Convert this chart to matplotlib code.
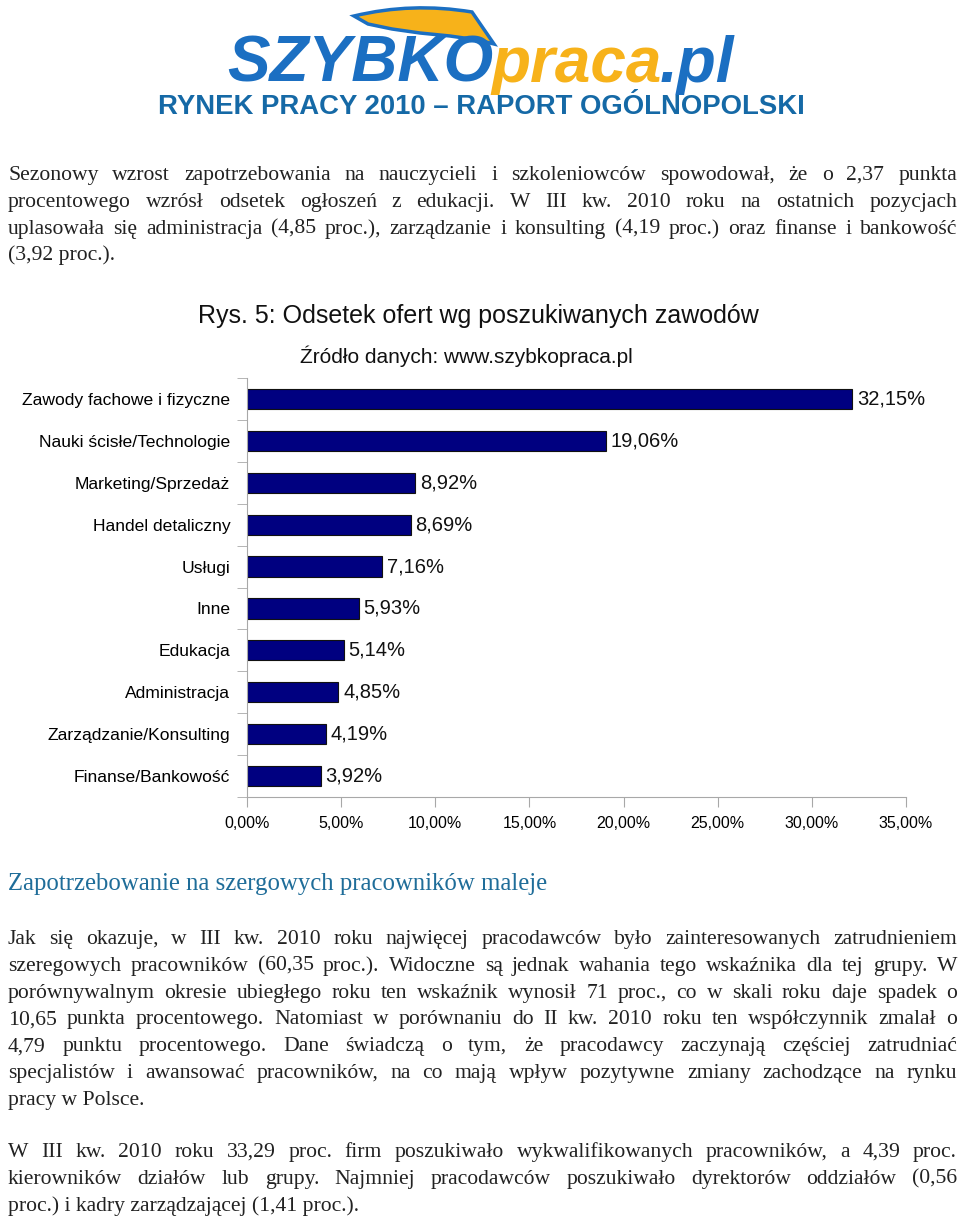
import matplotlib
matplotlib.use('Agg')
import matplotlib.pyplot as plt
from matplotlib.path import Path
from matplotlib.patches import PathPatch

categories = ['Zawody fachowe i fizyczne', 'Nauki ścisłe/Technologie', 'Marketing/Sprzedaż',
              'Handel detaliczny', 'Usługi', 'Inne', 'Edukacja', 'Administracja',
              'Zarządzanie/Konsulting', 'Finanse/Bankowość']
values = [32.15, 19.06, 8.92, 8.69, 7.16, 5.93, 5.14, 4.85, 4.19, 3.92]
x_ticks = [0, 5, 10, 15, 20, 25, 30, 35]

title = 'RYNEK PRACY 2010 – RAPORT OGÓLNOPOLSKI'
chart_title = 'Rys. 5: Odsetek ofert wg poszukiwanych zawodów'
chart_source = 'Źródło danych: www.szybkopraca.pl'
heading = 'Zapotrzebowanie na szergowych pracowników maleje'

para1 = ['Sezonowy wzrost zapotrzebowania na nauczycieli i szkoleniowców spowodował, że o 2,37 punkta',
         'procentowego wzrósł odsetek ogłoszeń z edukacji. W III kw. 2010 roku na ostatnich pozycjach',
         'uplasowała się administracja (4,85 proc.), zarządzanie i konsulting (4,19 proc.) oraz finanse i bankowość',
         '(3,92 proc.).']
para2 = ['Jak się okazuje, w III kw. 2010 roku najwięcej pracodawców było zainteresowanych zatrudnieniem',
         'szeregowych pracowników (60,35 proc.). Widoczne są jednak wahania tego wskaźnika dla tej grupy. W',
         'porównywalnym okresie ubiegłego roku ten wskaźnik wynosił 71 proc., co w skali roku daje spadek o',
         '10,65 punkta procentowego. Natomiast w porównaniu do II kw. 2010 roku ten współczynnik zmalał o',
         '4,79 punktu procentowego. Dane świadczą o tym, że pracodawcy zaczynają częściej zatrudniać',
         'specjalistów i awansować pracowników, na co mają wpływ pozytywne zmiany zachodzące na rynku',
         'pracy w Polsce.']
para3 = ['W III kw. 2010 roku 33,29 proc. firm poszukiwało wykwalifikowanych pracowników, a 4,39 proc.',
         'kierowników działów lub grupy. Najmniej pracodawców poszukiwało dyrektorów oddziałów (0,56',
         'proc.) i kadry zarządzającej (1,41 proc.).']

W, H = 960, 1218
fig = plt.figure(figsize=(W / 100, H / 100), dpi=100)
fig.patch.set_facecolor('white')

# page layer in pixel coordinates
page = fig.add_axes([0, 0, 1, 1])
page.set_xlim(0, W)
page.set_ylim(H, 0)
page.axis('off')

renderer = fig.canvas.get_renderer()
LEFT, RIGHT = 8, 957
body = dict(family='Liberation Serif', fontsize=15.6, color='#222222')


def width_of(t):
    return t.get_window_extent(renderer=renderer).width


def paragraph(lines, y0, step=26.8):
    for i, line in enumerate(lines):
        y = y0 + i * step
        if i == len(lines) - 1:
            page.text(LEFT, y, line, va='baseline', ha='left', **body)
            continue
        words = line.split(' ')
        texts = [page.text(0, y, w, va='baseline', ha='left', **body) for w in words]
        widths = [width_of(t) for t in texts]
        gap = (RIGHT - LEFT - sum(widths)) / (len(words) - 1)
        x = LEFT
        for t, w in zip(texts, widths):
            t.set_x(x)
            x += w + gap


# logo
wing = Path([(354, 16), (412, 2), (472, 12), (494, 44), (478, 40), (450, 36),
             (420, 33), (392, 29), (368, 24), (354, 16)],
            [Path.MOVETO, Path.CURVE3, Path.CURVE3, Path.LINETO, Path.LINETO,
             Path.LINETO, Path.LINETO, Path.LINETO, Path.LINETO, Path.CLOSEPOLY])
page.add_patch(PathPatch(wing, facecolor='#f7b21a', edgecolor='#1b6fc2', lw=2.5))
logo = dict(fontsize=46, fontweight='bold', style='italic', family='Liberation Sans', va='baseline')
parts = [('SZYBKO', '#1b6fc2'), ('praca', '#f7b21a'), ('.pl', '#1b6fc2')]
pieces = [page.text(0, 82, s, color=c, **logo) for s, c in parts]
pw = [width_of(t) for t in pieces]
x = 483 - sum(pw) / 2
for t, w in zip(pieces, pw):
    t.set_x(x)
    x += w - 2

page.text(481, 114, title, ha='center', va='baseline', fontsize=19.8, fontweight='bold',
          family='Liberation Sans', color='#1569a6')

paragraph(para1, 180)

page.text(478, 323, chart_title, ha='center', va='baseline', fontsize=18,
          family='Liberation Sans', color='#111111')
page.text(466, 363, chart_source, ha='center', va='baseline', fontsize=15,
          family='Liberation Sans', color='#111111')

page.text(LEFT, 890, heading, ha='left', va='baseline', fontsize=17.8,
          family='Liberation Serif', color='#1f6d99')
paragraph(para2, 944)
paragraph(para3, 1157)

# bar chart
ax = fig.add_axes([247 / W, 1 - 797 / H, 659 / W, 419 / H])
pos = list(range(len(categories)))
ax.barh(pos, values, height=0.48, color='#000080', edgecolor='#111111', linewidth=0.8)
ax.set_xlim(0, 35)
ax.set_ylim(len(categories) - 0.5, -0.5)
for p, v in zip(pos, values):
    ax.text(v + 0.25, p, f'{v:.2f}%'.replace('.', ','), va='center', ha='left',
            fontsize=14.5, family='Liberation Sans', color='#111111')
ax.set_xticks(x_ticks)
ax.set_xticklabels([f'{t:.2f}%'.replace('.', ',') for t in x_ticks],
                   fontsize=11.5, family='Liberation Sans')
ax.set_yticks(pos)
ax.set_yticklabels(categories, fontsize=12.6, family='Liberation Sans')
ax.set_yticks([p - 0.5 for p in pos] + [len(pos) - 0.5], minor=True)
ax.tick_params(axis='y', which='major', length=0, pad=12)
ax.tick_params(axis='y', which='minor', length=7, color='#a8a8a8')
ax.tick_params(axis='x', length=7, color='#a8a8a8', pad=7)
for s in ['top', 'right']:
    ax.spines[s].set_visible(False)
for s in ['left', 'bottom']:
    ax.spines[s].set_color('#a8a8a8')
ax.patch.set_alpha(0)

fig.savefig('out.png', dpi=100)
